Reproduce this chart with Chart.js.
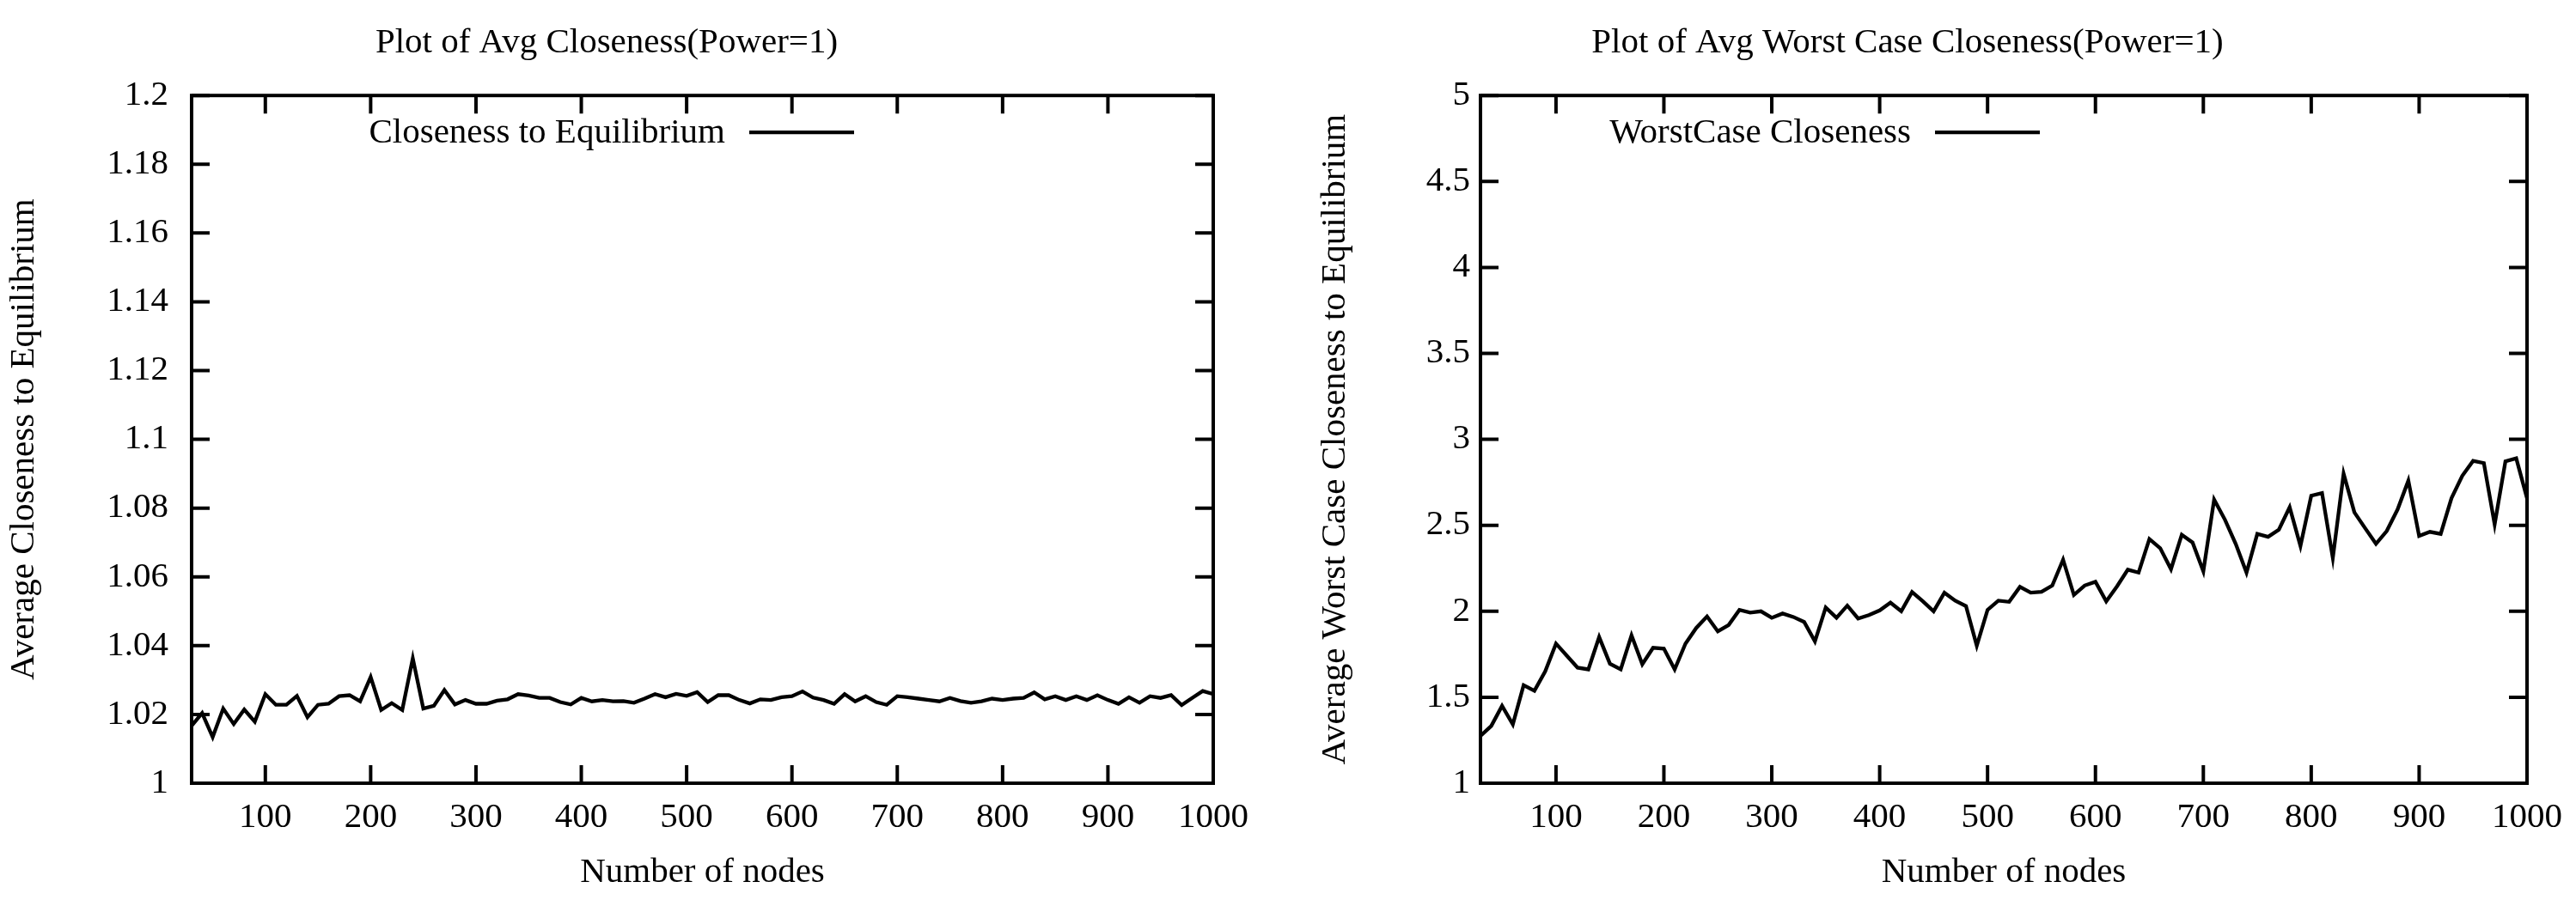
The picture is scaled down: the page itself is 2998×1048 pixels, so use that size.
<!DOCTYPE html>
<html>
<head>
<meta charset="utf-8">
<title>Avg Closeness plots</title>
<script src="https://cdn.jsdelivr.net/npm/chart.js@4.4.1/dist/chart.umd.min.js"></script>
<style>
  html, body { margin: 0; padding: 0; background: #fff; }
  #wrap { width: 2998px; height: 1048px; display: flex; }
  canvas { display: block; }
</style>
</head>
<body>
<div id="wrap">
  <canvas id="avgChart" width="1499" height="1048"></canvas>
  <canvas id="worstChart" width="1499" height="1048"></canvas>
</div>
<script>
// number of nodes (x values), one sample every 10 nodes
var nodes = [30, 40, 50, 60, 70, 80, 90, 100, 110, 120, 130, 140, 150, 160, 170, 180, 190, 200,
  210, 220, 230, 240, 250, 260, 270, 280, 290, 300, 310, 320, 330, 340, 350, 360, 370, 380, 390, 400,
  410, 420, 430, 440, 450, 460, 470, 480, 490, 500, 510, 520, 530, 540, 550, 560, 570, 580, 590, 600,
  610, 620, 630, 640, 650, 660, 670, 680, 690, 700, 710, 720, 730, 740, 750, 760, 770, 780, 790, 800,
  810, 820, 830, 840, 850, 860, 870, 880, 890, 900, 910, 920, 930, 940, 950, 960, 970, 980, 990, 1000];

// left plot: closeness to equilibrium
var avgCloseness = [1.0167, 1.0204, 1.0134, 1.0217, 1.0172, 1.0214, 1.0179, 1.0259, 1.0228, 1.0228,
  1.0254, 1.0192, 1.0228, 1.0231, 1.0253, 1.0256, 1.0238, 1.0309, 1.0213, 1.0233,
  1.0213, 1.0363, 1.0217, 1.0225, 1.0271, 1.0229, 1.0242, 1.0231, 1.0231, 1.0240,
  1.0244, 1.0259, 1.0255, 1.0248, 1.0248, 1.0236, 1.0229, 1.0248, 1.0238, 1.0242,
  1.0238, 1.0239, 1.0234, 1.0246, 1.0259, 1.0250, 1.0260, 1.0254, 1.0265, 1.0236,
  1.0256, 1.0256, 1.0242, 1.0232, 1.0244, 1.0242, 1.0250, 1.0253, 1.0267, 1.0249,
  1.0242, 1.0231, 1.0259, 1.0238, 1.0253, 1.0236, 1.0228, 1.0253, 1.0250, 1.0246,
  1.0242, 1.0238, 1.0248, 1.0239, 1.0234, 1.0238, 1.0246, 1.0242, 1.0246, 1.0248,
  1.0264, 1.0244, 1.0253, 1.0242, 1.0253, 1.0242, 1.0256, 1.0242, 1.0231, 1.0250,
  1.0234, 1.0253, 1.0248, 1.0256, 1.0227, 1.0248, 1.0268, 1.0259];

// right plot: worst case closeness
var worstCloseness = [1.275, 1.333, 1.45, 1.342, 1.57, 1.538, 1.65, 1.812, 1.742, 1.672,
  1.662, 1.85, 1.695, 1.662, 1.86, 1.692, 1.788, 1.783, 1.662, 1.812,
  1.903, 1.97, 1.883, 1.92, 2.008, 1.992, 2.0, 1.962, 1.987, 1.967,
  1.938, 1.825, 2.022, 1.962, 2.033, 1.958, 1.978, 2.005, 2.05, 2.0,
  2.112, 2.058, 2.0, 2.108, 2.062, 2.03, 1.8, 2.008, 2.062, 2.055,
  2.142, 2.108, 2.113, 2.15, 2.30, 2.095, 2.15, 2.172, 2.058, 2.145,
  2.242, 2.225, 2.42, 2.367, 2.245, 2.445, 2.4, 2.233, 2.65, 2.533,
  2.392, 2.225, 2.45, 2.433, 2.475, 2.605, 2.38, 2.672, 2.688, 2.31,
  2.80, 2.575, 2.483, 2.392, 2.467, 2.592, 2.76, 2.438, 2.462, 2.45,
  2.658, 2.788, 2.875, 2.862, 2.505, 2.872, 2.89, 2.658];

// tick labels
var xTicks = [100, 200, 300, 400, 500, 600, 700, 800, 900, 1000];
var avgTicks = [1, 1.02, 1.04, 1.06, 1.08, 1.1, 1.12, 1.14, 1.16, 1.18, 1.2];
var worstTicks = [1, 1.5, 2, 2.5, 3, 3.5, 4, 4.5, 5];

var FONT = "'Liberation Serif', 'Times New Roman', serif";

// gnuplot style box: border, inward ticks on all four sides, key inside the top
var gnuplotFrame = {
  id: 'gnuplotFrame',
  afterDatasetsDraw: function (chart, args, opts) {
    var ctx = chart.ctx;
    var a = chart.chartArea;
    var xs = chart.scales.x;
    var ys = chart.scales.y;
    var len = 21;
    ctx.save();
    ctx.strokeStyle = '#000';
    ctx.lineWidth = 4;
    ctx.beginPath();
    xs.ticks.forEach(function (t) {
      var px = xs.getPixelForValue(t.value);
      ctx.moveTo(px, a.bottom);
      ctx.lineTo(px, a.bottom - len);
      ctx.moveTo(px, a.top);
      ctx.lineTo(px, a.top + len);
    });
    ys.ticks.forEach(function (t) {
      var py = ys.getPixelForValue(t.value);
      ctx.moveTo(a.left, py);
      ctx.lineTo(a.left + len, py);
      ctx.moveTo(a.right, py);
      ctx.lineTo(a.right - len, py);
    });
    ctx.stroke();
    ctx.strokeRect(a.left, a.top, a.right - a.left, a.bottom - a.top);

    // key
    var ds = chart.data.datasets[0];
    var kx = a.left + opts.keyX;
    var ky = a.top + opts.keyY;
    ctx.fillStyle = '#000';
    ctx.font = '41px ' + FONT;
    ctx.textAlign = 'right';
    ctx.textBaseline = 'middle';
    ctx.fillText(ds.label, kx, ky + 1);
    ctx.lineWidth = ds.borderWidth;
    ctx.beginPath();
    ctx.moveTo(kx + 28, ky);
    ctx.lineTo(kx + 150, ky);
    ctx.stroke();
    ctx.restore();
  }
};

function tickLabel(v) {
  return String(Math.round(v * 1000) / 1000);
}

function makeChart(id, title, yTitle, label, values, yMin, yMax, yTicks, cfg) {
  var ctx = document.getElementById(id).getContext('2d');
  return new Chart(ctx, {
    type: 'line',
    data: {
      datasets: [{
        label: label,
        data: nodes.map(function (n, i) { return { x: n, y: values[i] }; }),
        borderColor: '#000',
        borderWidth: 4.3,
        pointRadius: 0,
        tension: 0,
        fill: false
      }]
    },
    options: {
      responsive: false,
      animation: false,
      layout: { padding: { left: 0, right: cfg.padRight, top: 0, bottom: 0 } },
      plugins: {
        legend: { display: false },
        tooltip: { enabled: false },
        title: {
          display: true,
          text: title,
          color: '#000',
          font: { family: FONT, size: 41, weight: 'normal' },
          padding: { top: 26, bottom: 36 }
        },
        gnuplotFrame: { keyX: cfg.keyX, keyY: 43 }
      },
      scales: {
        x: {
          type: 'linear',
          min: 30,
          max: 1000,
          afterBuildTicks: function (s) { s.ticks = xTicks.map(function (v) { return { value: v }; }); },
          afterFit: function (s) { s.height = 136; },
          grid: { display: false, drawTicks: false },
          border: { display: false },
          ticks: { color: '#000', font: { family: FONT, size: 41 }, padding: 16, maxRotation: 0, callback: tickLabel },
          title: {
            display: true,
            text: 'Number of nodes',
            color: '#000',
            font: { family: FONT, size: 41 },
            padding: { top: 0, bottom: 7 }
          }
        },
        y: {
          type: 'linear',
          min: yMin,
          max: yMax,
          afterBuildTicks: function (s) { s.ticks = yTicks.map(function (v) { return { value: v }; }); },
          afterFit: function (s) { s.width = cfg.axisLeft; },
          grid: { display: false, drawTicks: false },
          border: { display: false },
          ticks: { color: '#000', font: { family: FONT, size: 41 }, padding: cfg.labelGap, callback: tickLabel },
          title: {
            display: true,
            text: yTitle,
            color: '#000',
            font: { family: FONT, size: 41 },
            padding: { top: cfg.yTitlePad, bottom: 0 }
          }
        }
      }
    },
    plugins: [gnuplotFrame]
  });
}

makeChart('avgChart', 'Plot of Avg Closeness(Power=1)', 'Average Closeness to Equilibrium',
  'Closeness to Equilibrium', avgCloseness, 1, 1.2, avgTicks,
  { padRight: 87, axisLeft: 223, labelGap: 27, yTitlePad: 4, keyX: 621 });

makeChart('worstChart', 'Plot of Avg Worst Case Closeness(Power=1)', 'Average Worst Case Closeness to Equilibrium',
  'WorstCase Closeness', worstCloseness, 1, 5, worstTicks,
  { padRight: 57, axisLeft: 224, labelGap: 12, yTitlePad: 31, keyX: 501 });
</script>
</body>
</html>
